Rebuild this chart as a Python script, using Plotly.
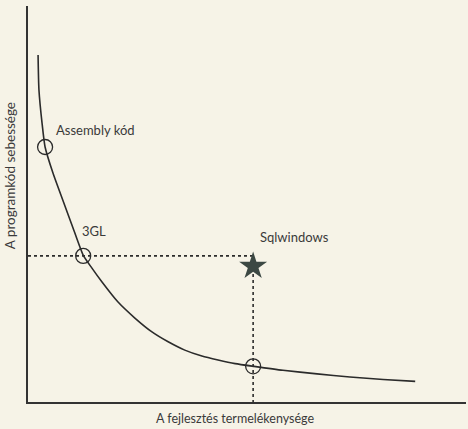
import plotly.graph_objects as go

# Curve: development productivity (x) vs program code speed (y), arbitrary units 0-100
curve_x = [2.3, 2.5, 3.2, 3.9, 5.7, 8.0, 10.3, 12.6, 14.6, 16.9, 20.5, 24.4, 28.3,
           32.0, 35.8, 39.7, 43.4, 47.3, 51.6, 58.2, 66.0, 73.5, 81.1, 88.4]
curve_y = [87.6, 78.8, 70.5, 64.4, 57.8, 50.8, 43.9, 37.1, 33.8, 30.3, 25.3, 21.2,
           17.7, 15.2, 13.1, 11.6, 10.6, 9.7, 9.0, 8.0, 7.1, 6.3, 5.7, 5.2]

# Marked points on the curve
point_names = ["Assembly kód", "3GL", ""]
point_x = [3.9, 12.6, 51.4]
point_y = [64.4, 36.9, 9.0]

# Sqlwindows star
star_name = "Sqlwindows"
star_x = [51.4]
star_y = [34.3]

# Guide line level (3GL speed) and Sqlwindows productivity
guide_y = 36.9
guide_x = 51.4

# Label anchors
label_text = ["Assembly kód", "3GL", "Sqlwindows"]
label_x = [6.0, 11.8, 52.6]
label_y = [68.6, 43.2, 41.7]

x_title = "A fejlesztés termelékenysége"
y_title = "A programkód sebessége"

bg = "#f6f3e7"
ink = "#2b2b2b"

fig = go.Figure()

# dotted guide lines
fig.add_trace(go.Scatter(x=[0, guide_x], y=[guide_y, guide_y], mode="lines",
                         line=dict(color=ink, width=1.6, dash="dot"), hoverinfo="skip"))
fig.add_trace(go.Scatter(x=[guide_x, guide_x], y=[guide_y, 0], mode="lines",
                         line=dict(color=ink, width=1.6, dash="dot"), hoverinfo="skip"))

# curve
fig.add_trace(go.Scatter(x=curve_x, y=curve_y, mode="lines",
                         line=dict(color=ink, width=1.6, shape="spline", smoothing=0.6),
                         hoverinfo="skip"))

# open circles
fig.add_trace(go.Scatter(x=point_x, y=point_y, mode="markers",
                         marker=dict(symbol="circle-open", size=15,
                                     line=dict(color=ink, width=1.3), color=ink),
                         text=point_names, hoverinfo="text"))

# star
fig.add_trace(go.Scatter(x=star_x, y=star_y, mode="markers",
                         marker=dict(symbol="star", size=21, color="#3c4843",
                                     line=dict(width=0)),
                         text=[star_name], hoverinfo="text"))

for t, lx, ly in zip(label_text, label_x, label_y):
    fig.add_annotation(x=lx, y=ly, text=t, showarrow=False, xanchor="left",
                       yanchor="middle", font=dict(family="Lato", size=13, color="#3a3a3a"))

fig.add_annotation(x=0.473, y=0, xref="paper", yref="paper", text=x_title,
                   showarrow=False, yanchor="top", yshift=-7,
                   font=dict(family="Lato", size=12.5, color="#3a3a3a"))
fig.add_annotation(x=0, y=0.57, xref="paper", yref="paper", text=y_title,
                   showarrow=False, textangle=-90, xanchor="right", xshift=-8,
                   font=dict(family="Lato", size=13.5, color="#3a3a3a"))

fig.update_xaxes(range=[0, 100], showline=True, linecolor="#333333", linewidth=2,
                 showgrid=False, zeroline=False, showticklabels=False, ticks="")
fig.update_yaxes(range=[0, 100], showline=True, linecolor="#333333", linewidth=2,
                 showgrid=False, zeroline=False, showticklabels=False, ticks="")

fig.update_layout(width=468, height=429, showlegend=False,
                  margin=dict(l=28, r=2, t=6, b=27),
                  paper_bgcolor=bg, plot_bgcolor=bg)

fig.write_html("out.html", config={"displayModeBar": False},
               post_script="document.body.style.margin='0';document.body.style.background='%s';" % bg)
